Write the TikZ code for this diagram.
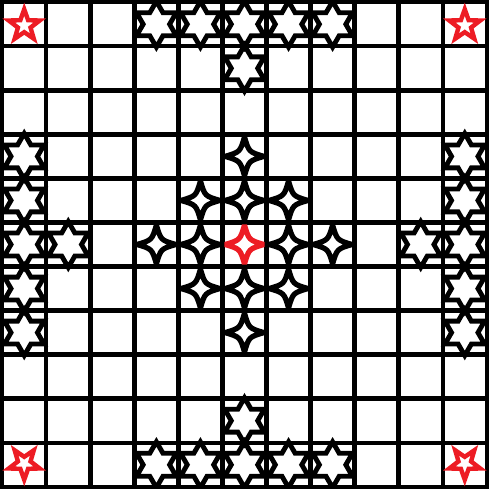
\documentclass[tikz,border=0pt]{standalone}
\usetikzlibrary{calc}
\definecolor{ink}{HTML}{000000}
\definecolor{kingred}{HTML}{ED1C24}

\begin{document}
\begin{tikzpicture}[ink,
    grid line/.style={draw,line width=0.1cm,line cap=rect},
    piece/.style={draw,line width=0.11cm,line join=miter},
    attacker/.pic={
      \draw[piece] (90:0.52) -- (60:0.3) -- (30:0.52) -- (0:0.3)
        -- (-30:0.52) -- (-60:0.3) -- (-90:0.52) -- (-120:0.3) -- (-150:0.52)
        -- (180:0.3) -- (150:0.52) -- (120:0.3) -- cycle;
    },
    defender/.pic={
      \draw[piece,line width=0.12cm,line join=bevel] (0,0.44) .. controls (0.1,0.1) .. (0.44,0)
        .. controls (0.1,-0.1) .. (0,-0.44) .. controls (-0.1,-0.1) .. (-0.44,0)
        .. controls (-0.1,0.1) .. (0,0.44) -- cycle;
    },
    corner/.pic={
      \draw[piece,line width=0.1cm,shift={(0,-0.03)}]
        (90:0.37) -- (126:0.15) -- (162:0.37) -- (198:0.15) -- (234:0.37)
        -- (270:0.15) -- (306:0.37) -- (342:0.15) -- (18:0.37) -- (54:0.15) -- cycle;
    }]
  \useasboundingbox (-0.05,-0.05) rectangle (11.05,11.05);
  \fill[white] (-0.05,-0.05) rectangle (11.05,11.05);

  \foreach \i in {0,...,11} {
    \draw[grid line] (\i,0) -- (\i,11);
    \draw[grid line] (0,\i) -- (11,\i);
  }

  \foreach \c in {3,...,7} {
    \pic at (\c+0.5,10.5) {attacker};
    \pic at (\c+0.5,0.5) {attacker};
    \pic at (0.5,\c+0.5) {attacker};
    \pic at (10.5,\c+0.5) {attacker};
  }
  \pic at (5.5,9.5) {attacker};
  \pic at (5.5,1.5) {attacker};
  \pic at (1.5,5.5) {attacker};
  \pic at (9.5,5.5) {attacker};

  \foreach \dx/\dy in {0/2,0/-2,2/0,-2/0,1/0,-1/0,0/1,0/-1,1/1,1/-1,-1/1,-1/-1}
    \pic at (5.5+\dx,5.5+\dy) {defender};
  \pic[kingred] at (5.5,5.5) {defender};

  \pic[kingred] at (0.5,10.5) {corner};
  \pic[kingred] at (10.5,10.5) {corner};
  \pic[kingred,rotate=180] at (0.5,0.5) {corner};
  \pic[kingred,rotate=180] at (10.5,0.5) {corner};
\end{tikzpicture}
\end{document}
